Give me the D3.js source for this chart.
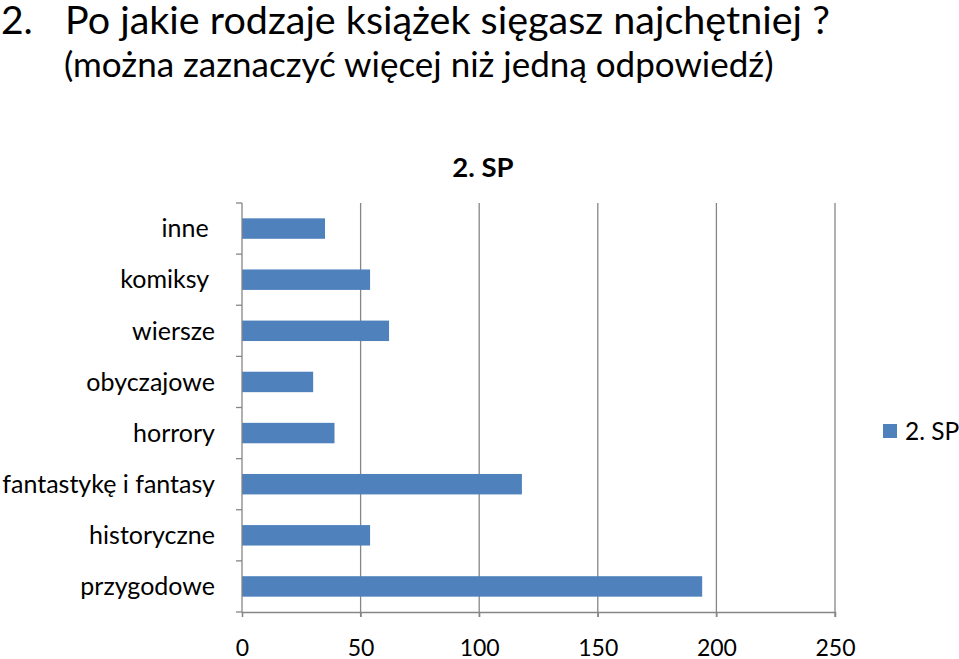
<!DOCTYPE html>
<html>
<head>
<meta charset="utf-8">
<script src="https://cdn.jsdelivr.net/npm/d3@7"></script>
<style>
  body { margin: 0; background: #fff; }
  text { font-family: Lato, "Open Sans", sans-serif; fill: #000; }
</style>
</head>
<body>
<svg class="chart"></svg>
<script>
var width = 959,
    height = 659;

// data
var categories = ["inne ", "komiksy ", "wiersze", "obyczajowe", "horrory", "fantastykę i fantasy", "historyczne", "przygodowe"];
var values = [35, 54, 62, 30, 39, 118, 54, 194];
var xTicks = [0, 50, 100, 150, 200, 250];
var seriesName = "2. SP";

var plot = {left: 242, right: 835, top: 203, bottom: 612};
var barColor = "#4f81bd",
    gridColor = "#868686";

var chart = d3.select(".chart")
    .attr("width", width)
    .attr("height", height);

// slide title
chart.append("text")
    .attr("x", 1).attr("y", 34)
    .style("font-size", "39px")
    .text("2.");
chart.append("text")
    .attr("x", 65).attr("y", 34)
    .style("font-size", "39.5px")
    .text("Po jakie rodzaje książek sięgasz najchętniej ?");
chart.append("text")
    .attr("x", 64).attr("y", 77)
    .style("font-size", "35px")
    .text("(można zaznaczyć więcej niż jedną odpowiedź)");

// chart title
chart.append("text")
    .attr("x", 483).attr("y", 177)
    .attr("text-anchor", "middle")
    .style("font-size", "27.5px")
    .style("font-weight", "bold")
    .text(seriesName);

var x = d3.scaleLinear()
    .domain([0, 250])
    .range([plot.left, plot.right]);

var y = d3.scaleBand()
    .domain(categories)
    .range([plot.top, plot.bottom])
    .paddingInner(0.6)
    .paddingOuter(0.3);

// gridlines
chart.append("g")
    .selectAll("line")
    .data(xTicks.slice(1))
    .enter().append("line")
    .attr("x1", function(d) { return x(d); })
    .attr("x2", function(d) { return x(d); })
    .attr("y1", plot.top)
    .attr("y2", plot.bottom + 5)
    .attr("stroke", gridColor)
    .attr("stroke-width", 1.3);

// bars
chart.append("g")
    .selectAll("rect")
    .data(values)
    .enter().append("rect")
    .attr("x", x(0))
    .attr("y", function(d, i) { return y(categories[i]); })
    .attr("width", function(d) { return x(d) - x(0); })
    .attr("height", y.bandwidth())
    .attr("fill", barColor);

// x axis
var xAxis = chart.append("g")
    .attr("transform", "translate(0," + plot.bottom + ")")
    .call(d3.axisBottom(x).tickValues(xTicks).tickSize(5).tickPadding(23));
xAxis.select(".domain").attr("stroke", gridColor).attr("stroke-width", 1.3);
xAxis.selectAll(".tick line").attr("stroke", gridColor).attr("stroke-width", 1.3);
xAxis.selectAll("text")
    .style("font-size", "23px")
    .style("font-family", "Lato, 'Open Sans', sans-serif");

// y axis: ticks at category boundaries
var step = (plot.bottom - plot.top) / categories.length;
var yAxis = chart.append("g");
yAxis.append("line")
    .attr("x1", plot.left).attr("x2", plot.left)
    .attr("y1", plot.top).attr("y2", plot.bottom)
    .attr("stroke", gridColor).attr("stroke-width", 1.3);
yAxis.selectAll("line.tk")
    .data(d3.range(categories.length + 1))
    .enter().append("line")
    .attr("class", "tk")
    .attr("x1", plot.left - 6).attr("x2", plot.left)
    .attr("y1", function(d) { return plot.top + d * step; })
    .attr("y2", function(d) { return plot.top + d * step; })
    .attr("stroke", gridColor).attr("stroke-width", 1.3);
yAxis.selectAll("text")
    .data(categories)
    .enter().append("text")
    .attr("x", 215)
    .attr("y", function(d) { return y(d) + y.bandwidth() / 2; })
    .attr("dy", "0.35em")
    .attr("text-anchor", "end")
    .style("font-size", "25px")
    .style("white-space", "pre")
    .text(function(d) { return d; });

// legend
var legend = chart.append("g").attr("transform", "translate(883,424)");
legend.append("rect")
    .attr("width", 14).attr("height", 14)
    .attr("fill", barColor);
legend.append("text")
    .attr("x", 22).attr("y", 7)
    .attr("dy", "0.35em")
    .style("font-size", "24.5px")
    .text(seriesName);
</script>
</body>
</html>
